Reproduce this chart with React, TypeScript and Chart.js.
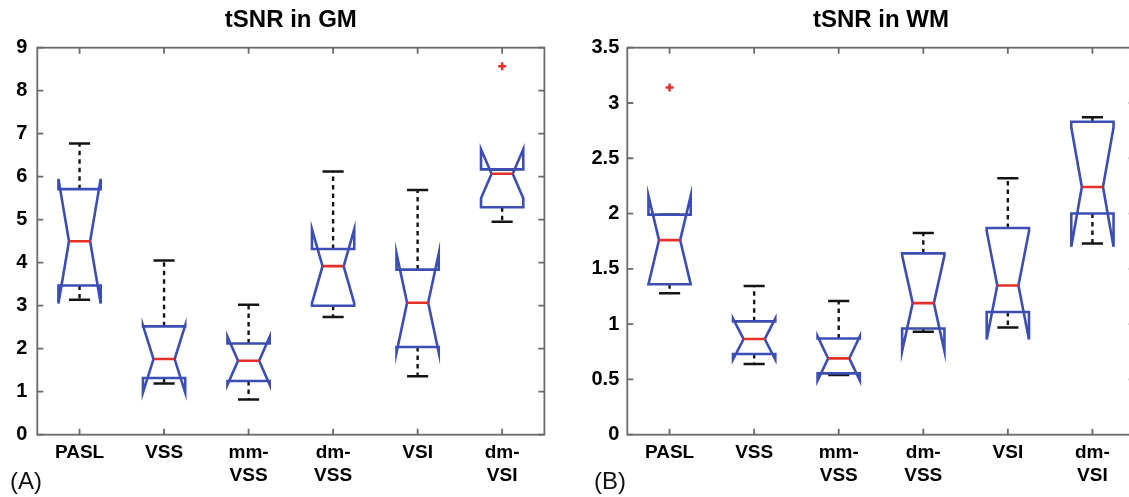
import React, { useEffect, useRef } from 'react';
import { Chart, registerables } from 'chart.js';

Chart.register(...registerables);

// ---------- data ----------
const categories = ['PASL', 'VSS', 'mm-VSS', 'dm-VSS', 'VSI', 'dm-VSI'];

// tSNR in GM
const gmWhiskerHigh = [6.77, 4.05, 3.02, 6.12, 5.69, 6.17];
const gmQ3 = [5.71, 2.52, 2.12, 4.32, 3.84, 6.17];
const gmMedian = [4.5, 1.76, 1.72, 3.92, 3.07, 6.07];
const gmQ1 = [3.47, 1.32, 1.25, 3.0, 2.04, 5.29];
const gmWhiskerLow = [3.14, 1.19, 0.82, 2.74, 1.36, 4.95];
const gmNotchHigh = [5.95, 2.54, 2.28, 4.78, 4.22, 6.64];
const gmNotchLow = [3.05, 0.98, 1.16, 3.06, 1.91, 5.5];
const gmOutliers = [{ x: 6, y: 8.57 }];
const gmYTicks = [0, 1, 2, 3, 4, 5, 6, 7, 8, 9];

// tSNR in WM
const wmWhiskerHigh = [1.99, 1.345, 1.21, 1.824, 2.32, 2.87];
const wmQ3 = [1.99, 1.025, 0.87, 1.64, 1.87, 2.83];
const wmMedian = [1.76, 0.865, 0.69, 1.19, 1.35, 2.24];
const wmQ1 = [1.36, 0.73, 0.555, 0.96, 1.11, 2.0];
const wmWhiskerLow = [1.28, 0.64, 0.54, 0.93, 0.97, 1.73];
const wmNotchHigh = [2.16, 1.05, 0.89, 1.62, 1.84, 2.78];
const wmNotchLow = [1.36, 0.68, 0.49, 0.757, 0.86, 1.7];
const wmOutliers = [{ x: 1, y: 3.14 }];
const wmYTicks = [0, 0.5, 1, 1.5, 2, 2.5, 3, 3.5];

// ---------- style ----------
const FONT = '"Liberation Sans", Arial, Helvetica, sans-serif';
const BOX_BLUE = '#3c4db3';
const MEDIAN_RED = '#e5302a';
const FRAME_GRAY = '#6a6a6a';
const WHISKER = '#141414';

function splitLabel(name: string): string | string[] {
  const idx = name.indexOf('-');
  if (idx < 0) return name;
  return [name.slice(0, idx + 1), name.slice(idx + 1)];
}

const notchedBoxPlugin = {
  id: 'notchedBox',
  beforeDatasetsDraw(chart: any, _args: any, opts: any) {
    const { ctx, chartArea, scales } = chart;
    const xs = scales.x;
    const ys = scales.y;
    const s = opts.stats;
    if (!s) return;
    const py = (v: number) => ys.getPixelForValue(v);
    ctx.save();
    ctx.beginPath();
    ctx.rect(chartArea.left, chartArea.top, chartArea.right - chartArea.left, chartArea.bottom - chartArea.top);
    ctx.clip();
    for (let i = 0; i < s.median.length; i++) {
      const c = i + 1;
      const L = xs.getPixelForValue(c - 0.25);
      const R = xs.getPixelForValue(c + 0.25);
      const NL = xs.getPixelForValue(c - 0.125);
      const NR = xs.getPixelForValue(c + 0.125);
      const X = xs.getPixelForValue(c);

      // dashed whiskers
      ctx.strokeStyle = WHISKER;
      ctx.lineWidth = 2.4;
      ctx.setLineDash([4.5, 4]);
      ctx.beginPath();
      if (s.hi[i] > s.q3[i]) {
        ctx.moveTo(X, py(s.q3[i]));
        ctx.lineTo(X, py(s.hi[i]));
      }
      if (s.lo[i] < s.q1[i]) {
        ctx.moveTo(X, py(s.q1[i]));
        ctx.lineTo(X, py(s.lo[i]));
      }
      ctx.stroke();
      ctx.setLineDash([]);

      // whisker caps
      ctx.lineWidth = 2.5;
      ctx.beginPath();
      ctx.moveTo(NL, py(s.hi[i]));
      ctx.lineTo(NR, py(s.hi[i]));
      ctx.moveTo(NL, py(s.lo[i]));
      ctx.lineTo(NR, py(s.lo[i]));
      ctx.stroke();

      // notched box
      ctx.strokeStyle = BOX_BLUE;
      ctx.lineWidth = 2.6;
      ctx.lineJoin = 'miter';
      ctx.beginPath();
      ctx.moveTo(L, py(s.q1[i]));
      ctx.lineTo(L, py(s.nlo[i]));
      ctx.lineTo(NL, py(s.median[i]));
      ctx.lineTo(L, py(s.nhi[i]));
      ctx.lineTo(L, py(s.q3[i]));
      ctx.lineTo(R, py(s.q3[i]));
      ctx.lineTo(R, py(s.nhi[i]));
      ctx.lineTo(NR, py(s.median[i]));
      ctx.lineTo(R, py(s.nlo[i]));
      ctx.lineTo(R, py(s.q1[i]));
      ctx.closePath();
      ctx.stroke();

      // median
      ctx.strokeStyle = MEDIAN_RED;
      ctx.lineWidth = 2.6;
      ctx.beginPath();
      ctx.moveTo(NL, py(s.median[i]));
      ctx.lineTo(NR, py(s.median[i]));
      ctx.stroke();
    }
    ctx.restore();
  },
  afterDraw(chart: any, _args: any, opts: any) {
    const { ctx, chartArea, scales } = chart;
    const { left, right, top, bottom } = chartArea;
    ctx.save();
    ctx.strokeStyle = FRAME_GRAY;
    ctx.lineWidth = 1.8;
    ctx.strokeRect(left, top, right - left, bottom - top);
    ctx.beginPath();
    const tl = 6;
    scales.x.ticks.forEach((t: any) => {
      const x = scales.x.getPixelForValue(t.value);
      ctx.moveTo(x, bottom);
      ctx.lineTo(x, bottom - tl);
      ctx.moveTo(x, top);
      ctx.lineTo(x, top + tl);
    });
    scales.y.ticks.forEach((t: any) => {
      const y = scales.y.getPixelForValue(t.value);
      ctx.moveTo(left, y);
      ctx.lineTo(left + tl, y);
      ctx.moveTo(right, y);
      ctx.lineTo(right - tl, y);
    });
    ctx.stroke();
    if (opts.panelLabel) {
      ctx.fillStyle = '#111';
      ctx.font = `24px ${FONT}`;
      ctx.textAlign = 'left';
      ctx.textBaseline = 'middle';
      ctx.fillText(opts.panelLabel, opts.panelLabelX, 482);
    }
    ctx.restore();
  },
};

type PanelCfg = {
  title: string;
  panelLabel: string;
  panelLabelX: number;
  stats: any;
  outliers: { x: number; y: number }[];
  yTicks: number[];
  plotLeft: number;
  padRight: number;
  yPad: number;
};

function buildConfig(p: PanelCfg): any {
  return {
    type: 'scatter',
    data: {
      datasets: [
        {
          data: p.outliers,
          pointStyle: 'cross',
          pointRadius: 4,
          pointBorderWidth: 2.5,
          pointBorderColor: MEDIAN_RED,
          pointBackgroundColor: MEDIAN_RED,
          showLine: false,
        },
      ],
    },
    plugins: [notchedBoxPlugin],
    options: {
      animation: false,
      responsive: false,
      maintainAspectRatio: false,
      events: [],
      layout: { padding: { left: 0, right: p.padRight, top: 0, bottom: 0 } },
      plugins: {
        legend: { display: false },
        tooltip: { enabled: false },
        title: {
          display: true,
          text: p.title,
          color: '#000',
          fullSize: false,
          font: { family: FONT, size: 24, weight: 'bold', lineHeight: 1.2 },
          padding: { top: 5.6, bottom: 13.3 },
        },
        notchedBox: {
          stats: p.stats,
          panelLabel: p.panelLabel,
          panelLabelX: p.panelLabelX,
        },
      },
      scales: {
        x: {
          type: 'linear',
          min: 0.5,
          max: 6.5,
          grid: { display: false, drawTicks: false },
          border: { display: false },
          afterBuildTicks: (scale: any) => {
            scale.ticks = categories.map((_, i) => ({ value: i + 1 }));
          },
          afterFit: (scale: any) => {
            scale.height = 62.3;
          },
          ticks: {
            autoSkip: false,
            maxRotation: 0,
            minRotation: 0,
            padding: 7,
            color: '#000',
            font: { family: FONT, size: 19, weight: 'bold', lineHeight: 1.2 },
            callback: (value: number) => splitLabel(categories[Math.round(value) - 1] || ''),
          },
        },
        y: {
          type: 'linear',
          min: p.yTicks[0],
          max: p.yTicks[p.yTicks.length - 1],
          grid: { display: false, drawTicks: false },
          border: { display: false },
          afterBuildTicks: (scale: any) => {
            scale.ticks = p.yTicks.map((v) => ({ value: v }));
          },
          afterFit: (scale: any) => {
            scale.width = p.plotLeft;
          },
          ticks: {
            padding: p.yPad,
            color: '#000',
            font: { family: FONT, size: 20, weight: 'bold' },
            callback: (value: number) => String(value),
          },
        },
      },
    },
  };
}

const gmPanel: PanelCfg = {
  title: 'tSNR in GM',
  panelLabel: '(A)',
  panelLabelX: 10,
  stats: {
    hi: gmWhiskerHigh,
    q3: gmQ3,
    median: gmMedian,
    q1: gmQ1,
    lo: gmWhiskerLow,
    nhi: gmNotchHigh,
    nlo: gmNotchLow,
  },
  outliers: gmOutliers,
  yTicks: gmYTicks,
  plotLeft: 37.3,
  padRight: 565 - 544.4,
  yPad: 10,
};

const wmPanel: PanelCfg = {
  title: 'tSNR in WM',
  panelLabel: '(B)',
  panelLabelX: 29,
  stats: {
    hi: wmWhiskerHigh,
    q3: wmQ3,
    median: wmMedian,
    q1: wmQ1,
    lo: wmWhiskerLow,
    nhi: wmNotchHigh,
    nlo: wmNotchLow,
  },
  outliers: wmOutliers,
  yTicks: wmYTicks,
  plotLeft: 62.3,
  padRight: 580 - 569.7,
  yPad: 8,
};

function Panel({ cfg, left, width }: { cfg: PanelCfg; left: number; width: number }) {
  const ref = useRef<HTMLCanvasElement | null>(null);
  useEffect(() => {
    if (!ref.current) return;
    const chart = new Chart(ref.current, buildConfig(cfg));
    return () => chart.destroy();
  }, [cfg]);
  return (
    <canvas
      ref={ref}
      width={width}
      height={497}
      style={{ position: 'absolute', left, top: 0, width, height: 497 }}
    />
  );
}

export default function App() {
  return (
    <div
      style={{
        position: 'fixed',
        left: 0,
        top: 0,
        width: 1129,
        height: 497,
        overflow: 'hidden',
        background: '#fff',
      }}
    >
      <Panel cfg={gmPanel} left={0} width={565} />
      <Panel cfg={wmPanel} left={565} width={580} />
    </div>
  );
}
